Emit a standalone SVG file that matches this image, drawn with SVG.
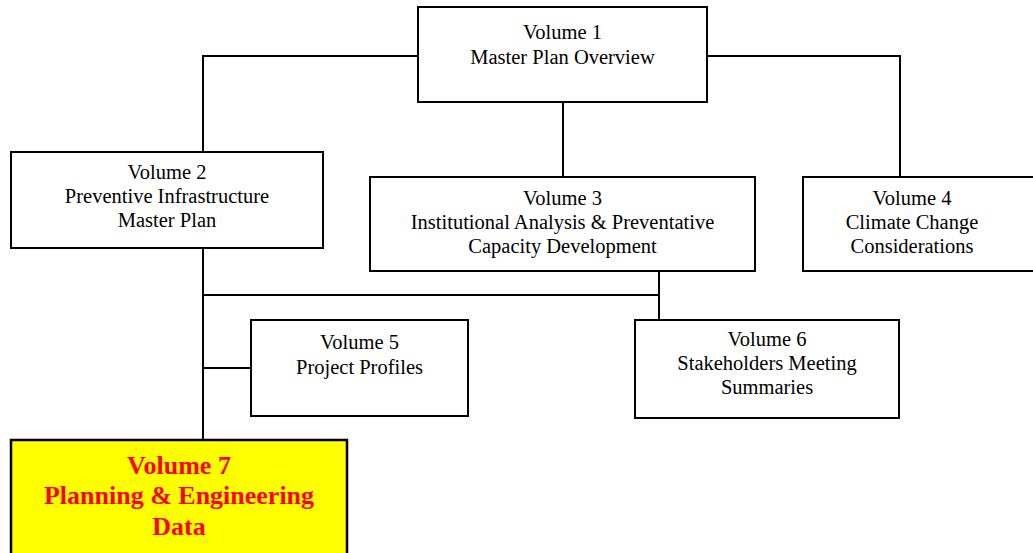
<svg xmlns="http://www.w3.org/2000/svg" width="1033" height="553" viewBox="0 0 1033 553">
<style>
.box{fill:#fff;stroke:#000;stroke-width:2}
.hl{fill:#ffff00;stroke:#000;stroke-width:2.5}
.t{font-family:"Liberation Serif","Times New Roman",serif;font-size:20.5px;fill:#000;text-anchor:middle}
.r{font-family:"Liberation Serif","Times New Roman",serif;font-size:26px;font-weight:bold;fill:#ff0000;text-anchor:middle}
.c{fill:none;stroke:#000;stroke-width:2}
</style>
<rect width="1033" height="553" fill="#fff"/>
<g id="connectors">
<polyline class="c" points="418,56 203,56 203,152"/>
<polyline class="c" points="707,56 900,56 900,177"/>
<line class="c" x1="563" y1="102" x2="563" y2="177"/>
<line class="c" x1="203" y1="248" x2="203" y2="440"/>
<line class="c" x1="203" y1="295" x2="659" y2="295"/>
<line class="c" x1="659" y1="271" x2="659" y2="320"/>
<line class="c" x1="203" y1="368" x2="251" y2="368"/>
</g>
<g id="v1">
<rect class="box" x="418" y="7" width="289" height="95"/>
<text class="t" x="562.5" y="39">Volume 1</text>
<text class="t" x="562.5" y="64">Master Plan Overview</text>
</g>
<g id="v2">
<rect class="box" x="11" y="152" width="312" height="96"/>
<text class="t" x="167" y="179">Volume 2</text>
<text class="t" x="167" y="203">Preventive Infrastructure</text>
<text class="t" x="167" y="227">Master Plan</text>
</g>
<g id="v3">
<rect class="box" x="370" y="177" width="385" height="94"/>
<text class="t" x="562.5" y="205">Volume 3</text>
<text class="t" x="562.5" y="229">Institutional Analysis &amp; Preventative</text>
<text class="t" x="562.5" y="253">Capacity Development</text>
</g>
<g id="v4">
<rect class="box" x="803" y="177" width="240" height="94"/>
<text class="t" x="912" y="205">Volume 4</text>
<text class="t" x="912" y="229">Climate Change</text>
<text class="t" x="912" y="253">Considerations</text>
</g>
<g id="v5">
<rect class="box" x="251" y="320" width="217" height="96"/>
<text class="t" x="359.5" y="349">Volume 5</text>
<text class="t" x="359.5" y="374">Project Profiles</text>
</g>
<g id="v6">
<rect class="box" x="635" y="320" width="264" height="98"/>
<text class="t" x="767" y="346">Volume 6</text>
<text class="t" x="767" y="370">Stakeholders Meeting</text>
<text class="t" x="767" y="394">Summaries</text>
</g>
<g id="v7">
<rect class="hl" x="11" y="440" width="336" height="125"/>
<text class="r" x="179" y="474">Volume 7</text>
<text class="r" x="179" y="504">Planning &amp; Engineering</text>
<text class="r" x="179" y="535">Data</text>
</g>
</svg>
